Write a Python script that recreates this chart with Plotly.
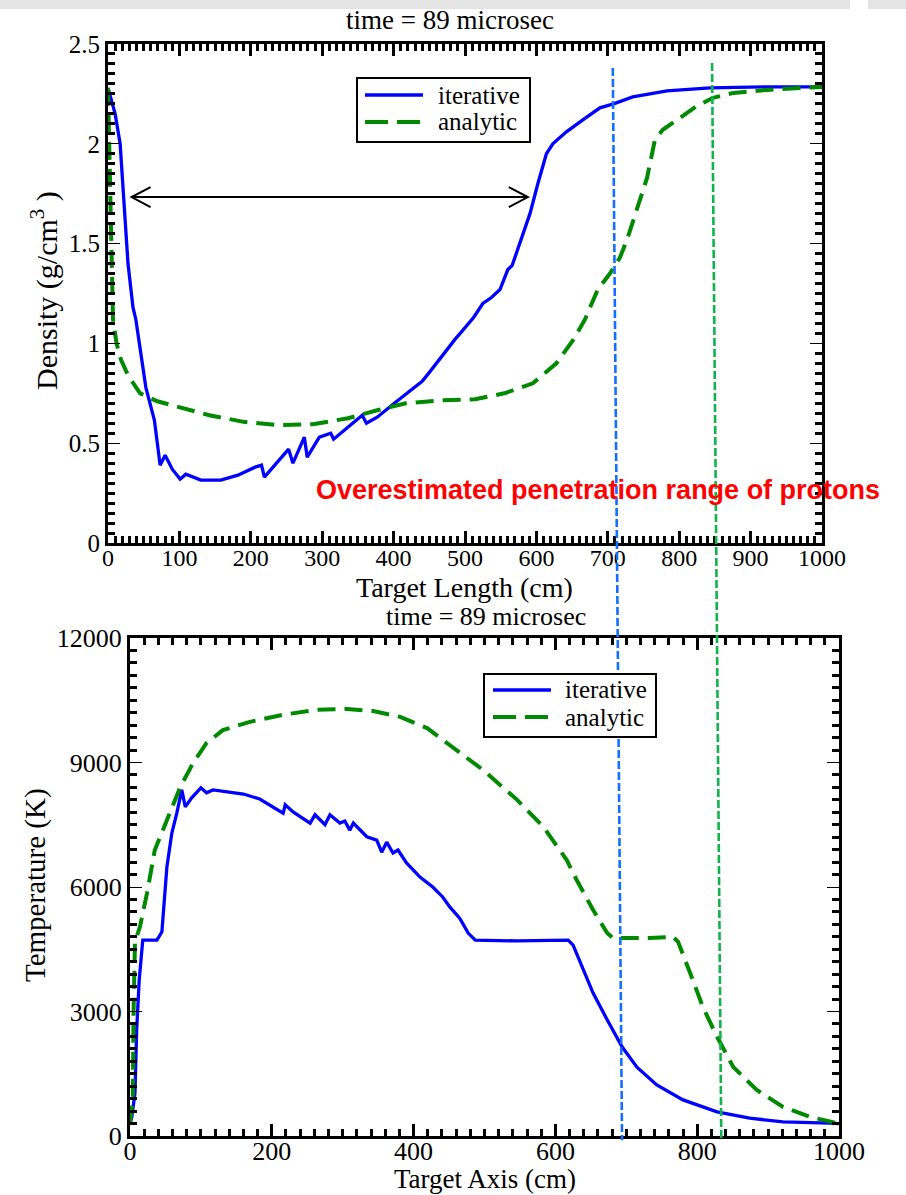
import plotly.graph_objects as go

W, H = 906, 1195

# ---------------- data: density (top) ----------------
dens_iter_x = [0, 10, 17, 22, 28, 35, 39, 53, 65, 73, 80, 90, 101, 109, 120, 130, 158, 182, 206, 215, 219,
               239, 253, 259, 275, 279, 296, 312, 316, 336, 356, 362, 377, 401, 425, 440, 449, 462, 474, 486,
               498, 512, 525, 537, 549, 560, 566, 577, 591, 602, 614, 623, 642, 665, 689, 708, 735, 783, 843,
               923, 1000]
dens_iter_y = [2.28, 2.15, 2.0, 1.73, 1.40, 1.18, 1.12, 0.78, 0.615, 0.39, 0.44, 0.37, 0.32, 0.345, 0.33, 0.315,
               0.315, 0.34, 0.38, 0.39, 0.33, 0.415, 0.47, 0.40, 0.53, 0.43, 0.53, 0.55, 0.52, 0.58, 0.64, 0.60,
               0.63, 0.70, 0.77, 0.81, 0.85, 0.91, 0.97, 1.02, 1.07, 1.13, 1.20, 1.23, 1.27, 1.37, 1.39, 1.50,
               1.65, 1.80, 1.95, 2.0, 2.06, 2.12, 2.18, 2.20, 2.235, 2.265, 2.28, 2.285, 2.285]
dens_ana_x = [0, 2, 4, 7, 12, 18, 28, 45, 69, 109, 142, 190, 239, 287, 336, 377, 417, 466, 514, 555, 595,
              628, 652, 668, 686, 703, 717, 727, 741, 755, 766, 777, 801, 825, 847, 876, 923, 1000]
dens_ana_y = [2.28, 1.9, 1.45, 1.12, 1.0, 0.92, 0.84, 0.75, 0.71, 0.67, 0.64, 0.607, 0.59, 0.595, 0.625,
              0.665, 0.70, 0.715, 0.72, 0.75, 0.80, 0.90, 1.02, 1.12, 1.27, 1.35, 1.43, 1.52, 1.68, 1.83,
              2.02, 2.07, 2.13, 2.19, 2.23, 2.255, 2.27, 2.285]

# ---------------- data: temperature (bottom) ----------------
temp_iter_x = [0, 2.6, 7, 9.4, 13, 18, 38, 45, 52, 59, 66, 73, 78, 87, 100, 108, 117, 137, 160, 183, 202,
               216, 219, 230, 254, 261, 275, 282, 296, 303, 310, 315, 334, 348, 355, 362, 371, 378, 390,
               409, 427, 441, 451, 465, 477, 487, 546, 618, 625, 639, 653, 673, 694, 715, 743, 780, 828,
               874, 921, 987, 1000]
temp_iter_y = [300, 460, 1035, 2550, 3760, 4720, 4720, 4920, 6480, 7300, 7780, 8340, 7930, 8150, 8390, 8270,
               8340, 8290, 8240, 8120, 7930, 7780, 7980, 7810, 7540, 7740, 7500, 7740, 7540, 7590, 7370,
               7540, 7210, 7130, 6840, 7080, 6820, 6890, 6580, 6240, 6000, 5760, 5520, 5250, 4890, 4720,
               4700, 4720, 4600, 4000, 3450, 2800, 2150, 1660, 1230, 870, 580, 430, 340, 310, 300]
temp_ana_x = [0, 4, 5, 5.6, 7, 14, 24, 35, 52, 71, 89, 108, 131, 169, 216, 263, 306, 343, 381, 419, 447,
              498, 546, 583, 616, 630, 653, 673, 681, 733, 766, 773, 790, 808, 828, 851, 884, 921, 959, 1000]
temp_ana_y = [300, 940, 2960, 4170, 4680, 5040, 5850, 6890, 7620, 8410, 8990, 9470, 9780, 9980, 10150,
              10270, 10290, 10240, 10100, 9830, 9470, 8820, 8100, 7450, 6650, 6170, 5450, 4890, 4770, 4770,
              4800, 4680, 3930, 3110, 2390, 1660, 1110, 700, 460, 300]

series_names = ["iterative", "analytic"]

# markers: vertical range lines (top-axis x, bottom-axis x)
range_line_top_x = [707, 846]
range_line_bot_x = [694, 834]
range_line_top_y = [2.38, 2.405]
range_line_colors = ["#1170ff", "#10b34c"]

# double arrow in density plot
arrow_x = [33, 588]
arrow_y = 1.733

title_text = "time = 89 microsec"

# ---------------- geometry ----------------
def px(x, y):
    return x / W, 1 - y / H

top_xd = [108 / W, 822 / W]
top_yd = [1 - 543 / H, 1 - 44 / H]
bot_xd = [130 / W, 839 / W]
bot_yd = [1 - 1136 / H, 1 - 638 / H]
top_xr, top_yr = [0, 1000], [0, 2.5]
bot_xr, bot_yr = [0, 1000], [0, 12000]

def to_paper(v, rng, dom):
    return dom[0] + (v - rng[0]) / (rng[1] - rng[0]) * (dom[1] - dom[0])

BLUE = "#0000ff"
GREEN = "#008a00"
SERIF = "Liberation Serif, Times New Roman, serif"
ANA_DASH = "18px,9px"

fig = go.Figure()
fig.add_trace(go.Scatter(x=dens_iter_x, y=dens_iter_y, mode="lines", name=series_names[0],
                         line=dict(color=BLUE, width=3.3), xaxis="x", yaxis="y", showlegend=False))
fig.add_trace(go.Scatter(x=dens_ana_x, y=dens_ana_y, mode="lines", name=series_names[1],
                         line=dict(color=GREEN, width=4, dash=ANA_DASH), xaxis="x", yaxis="y",
                         showlegend=False))
fig.add_trace(go.Scatter(x=temp_iter_x, y=temp_iter_y, mode="lines", name=series_names[0],
                         line=dict(color=BLUE, width=3.3), xaxis="x2", yaxis="y2", showlegend=False))
fig.add_trace(go.Scatter(x=temp_ana_x, y=temp_ana_y, mode="lines", name=series_names[1],
                         line=dict(color=GREEN, width=4, dash=ANA_DASH), xaxis="x2", yaxis="y2",
                         showlegend=False))

def xaxis(dom, rng, dtick, minor_dtick, anchor, fs, standoff):
    return dict(domain=dom, range=rng, anchor=anchor, dtick=dtick, tick0=0, automargin=False,
                showline=True, linewidth=3, linecolor="black", mirror="allticks",
                ticks="inside", ticklen=12, tickwidth=3, tickcolor="black", ticklabelstandoff=standoff,
                minor=dict(ticks="inside", ticklen=7, tickwidth=2.5, tickcolor="black", dtick=minor_dtick,
                           showgrid=False),
                showgrid=False, zeroline=False, tickformat="d",
                tickfont=dict(family=SERIF, size=fs, color="black"))

def yaxis(dom, rng, dtick, minor_dtick, anchor, fs, fmt=None):
    d = dict(domain=dom, range=rng, anchor=anchor, dtick=dtick, tick0=0, automargin=False,
             showline=True, linewidth=3, linecolor="black", mirror="allticks",
             ticks="inside", ticklen=12, tickwidth=1, tickcolor="black",
             minor=dict(ticks="inside", ticklen=7, tickwidth=3, tickcolor="black", dtick=minor_dtick,
                        showgrid=False),
             showgrid=False, zeroline=False,
             tickfont=dict(family=SERIF, size=fs, color="black"))
    if fmt:
        d["tickformat"] = fmt
    return d

shapes = []
annotations = []

def ann(text, x, y, size, angle=0, color="black", family=SERIF, xanchor="center"):
    xx, yy = px(x, y)
    annotations.append(dict(text=text, x=xx, y=yy, xref="paper", yref="paper", showarrow=False,
                            xanchor=xanchor, yanchor="middle", textangle=angle,
                            font=dict(family=family, size=size, color=color)))

# top gray band
shapes.append(dict(type="rect", xref="paper", yref="paper", x0=0, x1=850 / W, y0=1 - 9 / H, y1=1,
                   fillcolor="#e4e4e4", line=dict(width=0), layer="below"))
shapes.append(dict(type="rect", xref="paper", yref="paper", x0=868 / W, x1=1, y0=1 - 9 / H, y1=1,
                   fillcolor="#e4e4e4", line=dict(width=0), layer="below"))

# double-headed arrow
shapes.append(dict(type="line", xref="x", yref="y", x0=arrow_x[0], x1=arrow_x[1], y0=arrow_y, y1=arrow_y,
                   line=dict(color="black", width=2)))
shapes.append(dict(type="path", xref="x", yref="y", xsizemode="pixel", ysizemode="pixel",
                   xanchor=arrow_x[0], yanchor=arrow_y, path="M 19 10 L 0 0 L 19 -10",
                   line=dict(color="black", width=2)))
shapes.append(dict(type="path", xref="x", yref="y", xsizemode="pixel", ysizemode="pixel",
                   xanchor=arrow_x[1], yanchor=arrow_y, path="M -19 10 L 0 0 L -19 -10",
                   line=dict(color="black", width=2)))

# vertical range lines spanning both panels
for tx, bx, ty, col in zip(range_line_top_x, range_line_bot_x, range_line_top_y, range_line_colors):
    x0 = to_paper(tx, top_xr, top_xd)
    y0 = to_paper(ty, top_yr, top_yd)
    x1 = to_paper(bx, bot_xr, bot_xd)
    y1 = to_paper(-100, bot_yr, bot_yd)
    shapes.append(dict(type="line", xref="paper", yref="paper", x0=x0, y0=y0, x1=x1, y1=y1,
                       line=dict(color=col, width=2.6, dash="8px,3px")))

# hand-built legends (box, line samples, labels)
def legend_box(x0, y0, x1, y1, row_y, line_x0, line_x1, text_x):
    shapes.append(dict(type="rect", xref="paper", yref="paper",
                       x0=x0 / W, x1=x1 / W, y0=1 - y1 / H, y1=1 - y0 / H,
                       fillcolor="white", line=dict(color="black", width=2)))
    styles = [dict(color=BLUE, width=3.3), dict(color=GREEN, width=4, dash="23px,9px")]
    for ry, st, nm in zip(row_y, styles, series_names):
        shapes.append(dict(type="line", xref="paper", yref="paper",
                           x0=line_x0 / W, x1=line_x1 / W, y0=1 - ry / H, y1=1 - ry / H, line=st))
        ann(nm, text_x, ry, 25, xanchor="left")

legend_box(357, 78, 530, 142, [95, 122], 365, 423, 436)
legend_box(484, 674, 656, 737, [690, 717], 493, 551, 563)

ann(title_text, 450, 20, 27)
ann(title_text, 486, 616, 26)
ann("Target Length (cm)", 465, 587, 28)
ann("Target Axis (cm)", 485, 1179, 27)
ann("Density (g/cm<sup>3</sup> )", 44, 291, 30, angle=-90)
ann("Temperature (K)", 35, 885, 29, angle=-90)
ann("<b>Overestimated penetration range of protons</b>", 598, 490, 27, color="#ff0000",
    family="Liberation Sans, Arial, sans-serif")

fig.update_layout(
    template="none",
    autosize=True, margin=dict(l=0, r=0, t=0, b=0, pad=0),
    paper_bgcolor="white", plot_bgcolor="white", showlegend=False,
    xaxis=xaxis(top_xd, top_xr, 100, 10, "y", 24, -9),
    yaxis=yaxis(top_yd, top_yr, 0.5, 0.05, "x", 25),
    xaxis2=xaxis(bot_xd, bot_xr, 200, 20, "y2", 26, -10),
    yaxis2=yaxis(bot_yd, bot_yr, 3000, 300, "x2", 26, fmt="d"),
    shapes=shapes, annotations=annotations,
)

fig.write_html("out.html",
               default_width="100vw", default_height="100vh",
               config={"displayModeBar": False, "responsive": True},
               post_script="document.documentElement.style.margin='0';"
                           "document.documentElement.style.overflow='hidden';"
                           "document.body.style.margin='0';document.body.style.padding='0';"
                           "document.body.style.overflow='hidden';")
